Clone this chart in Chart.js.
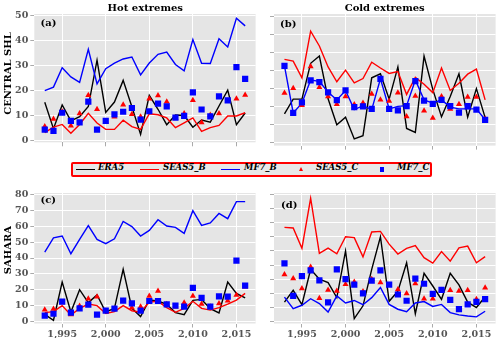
<!DOCTYPE html>
<html>
<head>
<meta charset="utf-8">
<script src="https://cdn.jsdelivr.net/npm/chart.js@4/dist/chart.umd.min.js"></script>
<style>
body { margin: 0; background: #fff; width: 500px; height: 338px; position: relative; overflow: hidden; }
canvas { position: absolute; }
#legend { position: absolute; left: 70.5px; top: 161.5px; width: 361px; height: 15px; box-sizing: border-box;
  border: 2px solid #f00; border-radius: 2px; background: #e8e8e8; }
.lg { position: absolute; }
.lg-line { height: 1.4px; width: 19px; top: 169px; }
.lg-text { top: 162px; line-height: 15px; font: italic bold 8.5px "DejaVu Serif", serif; color: #000; white-space: nowrap; }
.lg-tri { width: 0; height: 0; border-left: 2.6px solid transparent; border-right: 2.6px solid transparent; border-bottom: 4.6px solid #f00; top: 167px; left: 299.2px; }
.lg-sq { width: 4.6px; height: 4.6px; background: #00f; top: 167px; left: 379.8px; }
</style>
</head>
<body>
<canvas id="chart-a" width="260" height="150" style="left:0;top:0"></canvas>
<canvas id="chart-b" width="240" height="150" style="left:260px;top:0"></canvas>
<canvas id="chart-c" width="260" height="158" style="left:0;top:180px"></canvas>
<canvas id="chart-d" width="240" height="158" style="left:260px;top:180px"></canvas>

<div id="legend"></div>
<div class="lg lg-line" style="left:76px;background:#000"></div>
<div class="lg lg-text" style="left:98px">ERA5</div>
<div class="lg lg-line" style="left:140px;background:#f00"></div>
<div class="lg lg-text" style="left:163px">SEAS5_B</div>
<div class="lg lg-line" style="left:221px;background:#00f"></div>
<div class="lg lg-text" style="left:244px">MF7_B</div>
<div class="lg lg-tri"></div>
<div class="lg lg-text" style="left:316px">SEAS5_C</div>
<div class="lg lg-sq"></div>
<div class="lg lg-text" style="left:397px">MF7_C</div>

<script>
const years = [1993, 1994, 1995, 1996, 1997, 1998, 1999, 2000, 2001, 2002, 2003, 2004,
	2005, 2006, 2007, 2008, 2009, 2010, 2011, 2012, 2013, 2014, 2015, 2016];
const xTicks = [1995, 2000, 2005, 2010, 2015];

// (a) hot extremes, central Sahel
const hotShlEra5 = [15.3, 4.7, 14.2, 7.8, 9.5, 13.6, 32.2, 11.2, 15.4, 24.1, 13.5, 2.4, 18.1, 12.5, 6.3, 10.2, 10.0, 5.3, 8.2, 7.3, 13.8, 20.2, 6.3, 11.0];
const hotShlSeas5B = [3.1, 5.3, 6.4, 2.9, 6.4, 10.9, 7.0, 4.4, 4.4, 8.1, 5.5, 4.4, 10.7, 10.3, 9.0, 5.1, 7.0, 9.0, 3.6, 5.1, 6.0, 9.8, 9.8, 11.1];
const hotShlMf7B = [20.0, 21.4, 29.2, 25.5, 23.3, 36.6, 22.7, 28.8, 31.0, 32.7, 33.5, 26.3, 31.1, 34.6, 35.5, 30.5, 27.9, 40.5, 31.0, 30.9, 40.8, 37.5, 49.1, 46.0];
const hotShlSeas5C = [5.6, 8.6, 11.5, 5.9, 10.8, 18.1, 12.5, 7.5, 9.5, 14.3, 10.5, 9.5, 16.7, 18.0, 15.5, 9.0, 10.8, 16.1, 7.2, 10.2, 10.8, 15.9, 16.7, 18.2];
const hotShlMf7C = [4.3, 3.8, 11.1, 7.8, 7.2, 15.6, 4.3, 7.8, 10.4, 11.5, 13.0, 8.3, 11.7, 14.8, 13.7, 9.1, 9.8, 19.3, 12.4, 9.6, 17.7, 16.1, 29.4, 24.7];
const ticksA = [0, 10, 20, 30, 40, 50];

// (b) cold extremes, central Sahel
const coldShlEra5 = [8.0, 12.1, 12.1, 22.0, 24.0, 12.2, 5.0, 7.1, 1.1, 2.0, 18.0, 19.1, 12.1, 21.0, 4.0, 2.9, 24.0, 14.8, 7.2, 12.8, 19.1, 7.1, 15.0, 7.0];
const coldShlSeas5B = [23.1, 22.6, 18.0, 30.9, 26.8, 21.0, 16.9, 20.1, 16.6, 17.8, 22.3, 20.7, 19.2, 19.7, 13.4, 18.1, 16.2, 13.9, 20.7, 14.5, 16.5, 19.0, 20.4, 11.9];
const coldShlMf7B = [21.3, 8.3, 11.0, 17.4, 17.0, 14.0, 11.9, 14.5, 9.2, 10.3, 9.2, 17.7, 9.4, 10.1, 10.3, 17.4, 11.9, 11.0, 11.9, 9.9, 9.4, 9.4, 9.4, 6.4];
const coldShlSeas5C = [13.8, 15.1, 10.4, 21.1, 15.4, 12.8, 10.7, 12.8, 10.6, 11.0, 13.5, 11.9, 11.6, 13.9, 7.3, 13.0, 8.9, 6.9, 12.8, 9.4, 10.7, 12.7, 12.7, 6.6];
const coldShlMf7C = [21.3, 8.3, 11.2, 17.3, 16.8, 14.0, 11.8, 14.5, 9.9, 10.1, 9.4, 17.7, 9.4, 9.0, 10.2, 17.1, 11.7, 10.8, 11.9, 10.2, 8.4, 10.2, 9.2, 6.4];
const ticksB = [0, 5, 10, 15, 20, 25, 30, 35];

// (c) hot extremes, Sahara
const hotSahEra5 = [4.6, 0.9, 24.9, 6.1, 20.1, 12.0, 16.8, 6.1, 8.4, 32.9, 8.4, 3.2, 13.6, 13.0, 10.9, 5.7, 4.4, 13.4, 14.0, 8.2, 5.5, 24.9, 17.8, 14.9];
const hotSahSeas5B = [5.7, 6.3, 10.1, 4.2, 8.4, 11.1, 10.1, 5.2, 6.3, 10.1, 6.9, 5.9, 12.4, 12.8, 8.8, 5.9, 8.4, 12.8, 8.4, 7.3, 8.8, 11.1, 13.6, 17.8];
const hotSahMf7B = [43.7, 52.7, 53.8, 42.7, 51.7, 60.3, 51.7, 49.0, 52.1, 63.0, 59.7, 53.8, 57.3, 64.0, 60.1, 59.2, 55.5, 69.7, 60.5, 62.0, 68.0, 64.7, 75.4, 75.4];
const hotSahSeas5C = [7.5, 8.0, 12.0, 4.6, 9.8, 14.4, 15.7, 6.7, 8.2, 13.0, 8.8, 9.4, 16.1, 19.3, 10.9, 9.4, 11.9, 16.1, 11.1, 9.4, 11.5, 13.2, 16.8, 22.0];
const hotSahMf7C = [3.8, 5.0, 12.6, 5.7, 8.4, 10.7, 4.4, 6.9, 8.2, 13.2, 11.5, 6.9, 13.0, 13.0, 10.9, 10.1, 9.4, 21.2, 14.9, 9.4, 15.9, 15.7, 38.3, 22.6];
const ticksC = [0, 10, 20, 30, 40, 50, 60, 70, 80];

// (d) cold extremes, Sahara
const coldSahEra5 = [6.9, 11.1, 6.0, 18.5, 15.0, 13.8, 8.5, 25.0, 1.1, 5.6, 18.5, 30.0, 7.2, 10.8, 20.8, 2.8, 17.1, 12.6, 7.9, 17.1, 13.0, 6.9, 5.0, 8.8];
const coldSahSeas5B = [33.3, 33.1, 25.9, 43.6, 24.1, 26.0, 24.0, 30.0, 29.7, 22.9, 31.7, 31.9, 27.4, 23.9, 25.9, 26.9, 22.6, 20.7, 24.8, 21.4, 26.1, 26.7, 20.8, 23.0];
const coldSahMf7B = [8.7, 4.6, 5.8, 8.1, 6.4, 3.4, 9.1, 6.6, 7.5, 6.0, 8.5, 12.1, 6.1, 4.4, 3.5, 6.6, 7.1, 5.4, 6.1, 3.2, 2.4, 2.0, 1.7, 3.7];
const coldSahSeas5C = [16.7, 15.3, 11.7, 19.3, 8.3, 11.2, 10.8, 13.2, 14.0, 10.7, 15.0, 13.8, 13.0, 11.4, 10.0, 13.5, 8.1, 8.1, 11.1, 11.1, 10.8, 11.1, 7.9, 12.0];
const coldSahMf7C = [20.6, 9.1, 16.1, 18.1, 14.6, 6.8, 18.5, 15.0, 13.1, 10.0, 14.5, 18.1, 13.1, 9.6, 7.4, 15.2, 13.4, 9.8, 11.2, 7.7, 4.4, 6.1, 7.0, 8.0];
const ticksD = [0, 5, 10, 15, 20, 25, 30, 35, 40, 45];

const SERIF = '"DejaVu Serif", serif';

function pts(vals) {
	return vals.map((v, i) => ({ x: years[i], y: v }));
}

function makeDatasets(era5, seas5B, mf7B, seas5C, mf7C) {
	return [
		{ label: 'ERA5', data: pts(era5), showLine: true, borderColor: '#000', borderWidth: 1.4, pointRadius: 0, order: 5 },
		{ label: 'SEAS5_B', data: pts(seas5B), showLine: true, borderColor: '#f00', borderWidth: 1.4, pointRadius: 0, order: 4 },
		{ label: 'MF7_B', data: pts(mf7B), showLine: true, borderColor: '#00f', borderWidth: 1.4, pointRadius: 0, order: 3 },
		{ label: 'SEAS5_C', data: pts(seas5C), pointStyle: 'triangle', pointRadius: 3.5, backgroundColor: '#f00', borderWidth: 0, order: 2 },
		{ label: 'MF7_C', data: pts(mf7C), pointStyle: 'rect', pointRadius: 4.4, backgroundColor: '#00f', borderWidth: 0, order: 1 },
	];
}

// grey ggplot-like panel background
const panelBg = {
	id: 'panelBg',
	beforeDraw(chart) {
		const { ctx, chartArea: a } = chart;
		ctx.save();
		ctx.fillStyle = '#e5e5e5';
		ctx.fillRect(a.left, a.top, a.right - a.left, a.bottom - a.top);
		ctx.restore();
	}
};

// column titles, panel letters and row labels
const panelText = {
	id: 'panelText',
	afterDraw(chart, args, opts) {
		const ctx = chart.ctx;
		ctx.save();
		ctx.fillStyle = '#000';
		ctx.textBaseline = 'middle';
		if (opts.title) {
			ctx.font = 'bold 10px ' + SERIF;
			ctx.textAlign = 'center';
			ctx.fillText(opts.title, opts.titleX, opts.titleY);
		}
		if (opts.letter) {
			ctx.font = 'bold 10px ' + SERIF;
			ctx.textAlign = 'left';
			ctx.fillText(opts.letter, opts.letterX, opts.letterY);
		}
		if (opts.ylabel) {
			ctx.font = 'bold 10px ' + SERIF;
			ctx.textAlign = 'center';
			ctx.translate(opts.ylabelX, opts.ylabelY);
			ctx.rotate(-Math.PI / 2);
			ctx.fillText(opts.ylabel, 0, 0);
		}
		ctx.restore();
	}
};

function makeConfig(datasets, p) {
	const tickFont = { family: SERIF, weight: 'bold', size: 9.5 };
	return {
		type: 'scatter',
		data: { datasets: datasets },
		options: {
			responsive: false,
			animation: false,
			events: [],
			layout: { padding: { top: p.padTop, right: 4, left: 0, bottom: 0 } },
			plugins: {
				legend: { display: false },
				tooltip: { enabled: false },
				panelText: p.text,
			},
			scales: {
				x: {
					type: 'linear',
					min: 1991.8,
					max: 2017.2,
					afterBuildTicks: s => { s.ticks = xTicks.map(v => ({ value: v })); },
					afterFit: s => { s.height = p.xHeight; },
					ticks: { display: p.xLabels, color: '#555', font: tickFont, padding: 1, maxRotation: 0 },
					grid: { color: '#fff', lineWidth: 1, tickColor: '#aaa', tickLength: 4 },
					border: { display: false },
				},
				y: {
					min: p.yMin,
					max: p.yMax,
					afterBuildTicks: s => { s.ticks = p.yTicks.map(v => ({ value: v })); },
					afterFit: s => { s.width = p.yWidth; },
					ticks: { display: p.yLabels, color: '#555', font: tickFont, padding: 2 },
					grid: { color: '#fff', lineWidth: 1, tickColor: '#aaa', tickLength: 4 },
					border: { display: false },
				}
			}
		},
		plugins: [panelBg, panelText]
	};
}

document.addEventListener('DOMContentLoaded', () => {
	new Chart(document.getElementById('chart-a'), makeConfig(
		makeDatasets(hotShlEra5, hotShlSeas5B, hotShlMf7B, hotShlSeas5C, hotShlMf7C),
		{ padTop: 14, xHeight: 4, yWidth: 34.3, yMin: -0.78, yMax: 50.78, yTicks: ticksA, xLabels: false, yLabels: true,
			text: { title: 'Hot extremes', titleX: 145.3, titleY: 8.3, letter: '(a)', letterX: 40.5, letterY: 23.7,
				ylabel: 'CENTRAL SHL', ylabelX: 8, ylabelY: 73.5 } }));

	new Chart(document.getElementById('chart-b'), makeConfig(
		makeDatasets(coldShlEra5, coldShlSeas5B, coldShlMf7B, coldShlSeas5C, coldShlMf7C),
		{ padTop: 14, xHeight: 4, yWidth: 14, yMin: -0.74, yMax: 35.63, yTicks: ticksB, xLabels: false, yLabels: false,
			text: { title: 'Cold extremes', titleX: 124.7, titleY: 8.3, letter: '(b)', letterX: 20, letterY: 24.5 } }));

	new Chart(document.getElementById('chart-c'), makeConfig(
		makeDatasets(hotSahEra5, hotSahSeas5B, hotSahMf7B, hotSahSeas5C, hotSahMf7C),
		{ padTop: 13, xHeight: 14.5, yWidth: 34.3, yMin: -1.13, yMax: 80.82, yTicks: ticksC, xLabels: true, yLabels: true,
			text: { letter: '(c)', letterX: 40.5, letterY: 20.2, ylabel: 'SAHARA', ylabelX: 8.5, ylabelY: 70 } }));

	new Chart(document.getElementById('chart-d'), makeConfig(
		makeDatasets(coldSahEra5, coldSahSeas5B, coldSahMf7B, coldSahSeas5C, coldSahMf7C),
		{ padTop: 13, xHeight: 14.5, yWidth: 14, yMin: -0.64, yMax: 45.46, yTicks: ticksD, xLabels: true, yLabels: false,
			text: { letter: '(d)', letterX: 21, letterY: 25.5 } }));
});
</script>
</body>
</html>
